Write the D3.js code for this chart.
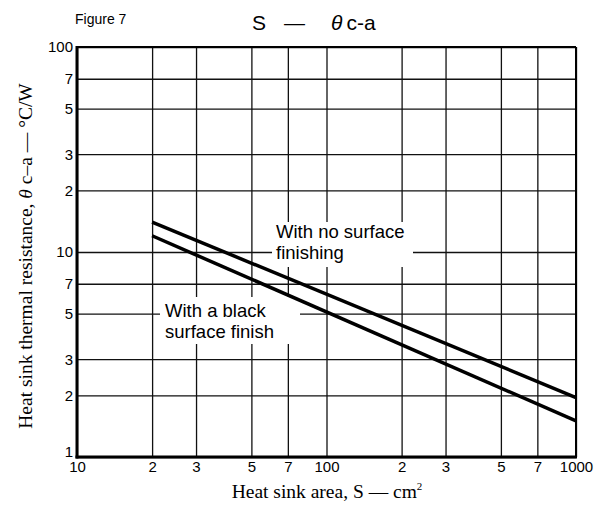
<!DOCTYPE html>
<html>
<head>
<meta charset="utf-8">
<script src="https://cdn.jsdelivr.net/npm/d3@7"></script>
<style>
  body { margin: 0; background: #fff; }
  text { font-family: "Liberation Sans", Arial, sans-serif; fill: #000; }
  .serif { font-family: "Liberation Serif", "Times New Roman", serif; }
</style>
</head>
<body>
<div id="chart"></div>
<script>
// Width and height
var chartWidth  = 600;
var chartHeight = 507;

// Data
var areas         = [20, 1000];          // cm2
var noFinish      = [14, 1.95];          // degC/W
var blackFinish   = [12, 1.5];           // degC/W
var xTickValues   = [10, 20, 30, 50, 70, 100, 200, 300, 500, 700, 1000];
var xTickLabels   = ['10', '2', '3', '5', '7', '100', '2', '3', '5', '7', '1000'];
var yTickValues   = [1, 2, 3, 5, 7, 10, 20, 30, 50, 70, 100];
var yTickLabels   = ['1', '2', '3', '5', '7', '10', '2', '3', '5', '7', '100'];

var plotLeft = 77, plotRight = 576, plotTop = 47, plotBottom = 457;

var x = d3.scaleLog().domain([10, 1000]).range([plotLeft, plotRight]);
var y = d3.scaleLog().domain([1, 100]).range([plotBottom, plotTop]);

var svg = d3.select('#chart')
    .append('svg')
    .attr('width', chartWidth)
    .attr('height', chartHeight);

// grid
svg.append('g')
    .attr('transform', 'translate(0,' + plotBottom + ')')
    .call(d3.axisBottom(x).tickValues(xTickValues).tickSize(-(plotBottom - plotTop)).tickFormat(''))
    .call(function(g){
        g.select('.domain').remove();
        g.selectAll('line').attr('stroke', '#111').attr('stroke-width', 1.3);
    });
svg.append('g')
    .attr('transform', 'translate(' + plotLeft + ',0)')
    .call(d3.axisLeft(y).tickValues(yTickValues).tickSize(-(plotRight - plotLeft)).tickFormat(''))
    .call(function(g){
        g.select('.domain').remove();
        g.selectAll('line').attr('stroke', '#111').attr('stroke-width', 1.3);
    });

// frame
svg.append('line').attr('x1', plotLeft).attr('x2', plotRight).attr('y1', plotTop).attr('y2', plotTop)
    .attr('stroke', '#000').attr('stroke-width', 2);
svg.append('line').attr('x1', plotRight).attr('x2', plotRight).attr('y1', plotTop).attr('y2', plotBottom)
    .attr('stroke', '#000').attr('stroke-width', 2);
svg.append('line').attr('x1', plotLeft).attr('x2', plotLeft).attr('y1', plotTop - 1).attr('y2', plotBottom + 1.5)
    .attr('stroke', '#000').attr('stroke-width', 3);
svg.append('line').attr('x1', plotLeft - 1.5).attr('x2', plotRight + 1).attr('y1', plotBottom).attr('y2', plotBottom)
    .attr('stroke', '#000').attr('stroke-width', 3);

// tick labels
svg.append('g')
    .attr('transform', 'translate(0,' + plotBottom + ')')
    .call(d3.axisBottom(x).tickValues(xTickValues).tickSize(0).tickPadding(4)
        .tickFormat(function(d, i){ return xTickLabels[i]; }))
    .call(function(g){
        g.select('.domain').remove();
        g.selectAll('text').attr('font-size', 15).attr('font-family', '"Liberation Sans", Arial, sans-serif');
    });
svg.append('g')
    .attr('transform', 'translate(' + plotLeft + ',0)')
    .call(d3.axisLeft(y).tickValues(yTickValues).tickSize(0).tickPadding(4)
        .tickFormat(function(d, i){ return yTickLabels[i]; }))
    .call(function(g){
        g.select('.domain').remove();
        g.selectAll('text').attr('font-size', 15).attr('font-family', '"Liberation Sans", Arial, sans-serif');
        g.selectAll('text').filter(function(d){ return d === 1; }).attr('dy', '-0.05em');
    });

// label backgrounds
svg.append('rect').attr('x', 272).attr('y', 222).attr('width', 141).attr('height', 45).attr('fill', '#fff');
svg.append('rect').attr('x', 160).attr('y', 297).attr('width', 140).attr('height', 47).attr('fill', '#fff');

// lines
var line = d3.line()
    .x(function(d){ return x(d[0]); })
    .y(function(d){ return y(d[1]); });

[noFinish, blackFinish].forEach(function(series){
    svg.append('path')
        .datum(areas.map(function(a, i){ return [a, series[i]]; }))
        .attr('d', line)
        .attr('fill', 'none')
        .attr('stroke', '#000')
        .attr('stroke-width', 3.5);
});

// series labels
var lab1 = svg.append('text').attr('font-size', 18.5);
lab1.append('tspan').attr('x', 276).attr('y', 238).text('With no surface');
lab1.append('tspan').attr('x', 276).attr('y', 259).text('finishing');
var lab2 = svg.append('text').attr('font-size', 18.5);
lab2.append('tspan').attr('x', 165).attr('y', 317).text('With a black');
lab2.append('tspan').attr('x', 165).attr('y', 338).text('surface finish');

// titles
svg.append('text').attr('x', 75).attr('y', 24).attr('font-size', 14).text('Figure 7');
var title = svg.append('text').attr('x', 252).attr('y', 30).attr('font-size', 21);
title.append('tspan').text('S');
title.append('tspan').attr('dx', 18).text('\u2014');
title.append('tspan').attr('dx', 26).attr('font-style', 'italic').text('\u03b8');
title.append('tspan').attr('dx', 4).text('c-a');

// axis titles
var xt = svg.append('text').attr('class', 'serif').attr('x', 327).attr('y', 498)
    .attr('text-anchor', 'middle').attr('font-size', 19.5);
xt.append('tspan').text('Heat sink area, S \u2014 cm');
xt.append('tspan').attr('font-size', 11).attr('dy', -8).text('2');

var yt = svg.append('text').attr('class', 'serif')
    .attr('transform', 'translate(32,256) rotate(-90)')
    .attr('text-anchor', 'middle').attr('font-size', 19.5);
yt.append('tspan').text('Heat sink thermal resistance, ');
yt.append('tspan').attr('font-style', 'italic').text('\u03b8');
yt.append('tspan').text(' c\u2013a \u2014 \u00b0C/W');
</script>
</body>
</html>
